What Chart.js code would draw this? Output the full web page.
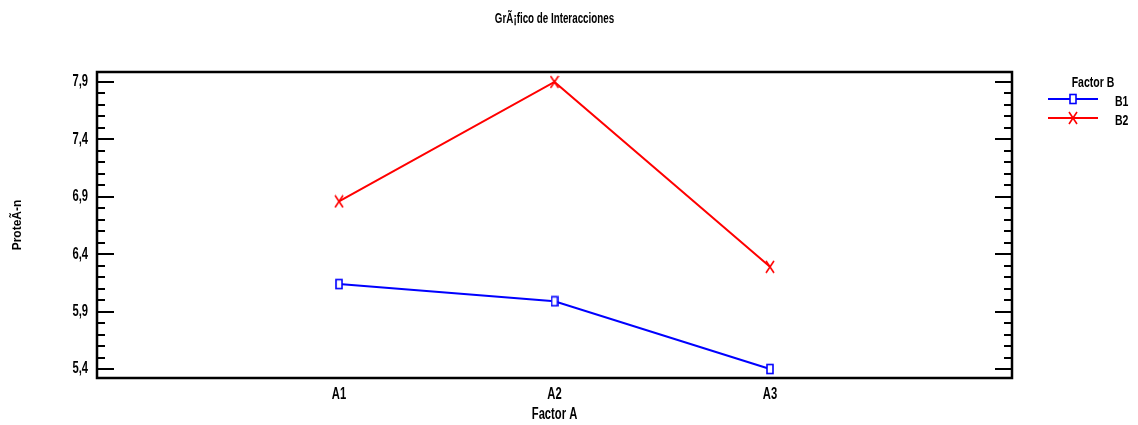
<!DOCTYPE html>
<html>
<head>
<meta charset="utf-8">
<script src="https://cdn.jsdelivr.net/npm/chart.js@4/dist/chart.umd.min.js"></script>
<style>
  body { margin: 0; background: #fff; }
  #wrap { width: 1138px; height: 425px; }
</style>
</head>
<body>
<div id="wrap"><canvas id="chart" width="1138" height="425"></canvas></div>
<script>
// datos
const categories = ['A1', 'A2', 'A3'];
const seriesNames = ['B1', 'B2'];
const b1Values = [6.14, 5.99, 5.40];
const b2Values = [6.86, 7.90, 6.29];
const yTicks = [5.4, 5.9, 6.4, 6.9, 7.4, 7.9];
const chartTitle = 'GrÃ¡fico de Interacciones';
const xTitle = 'Factor A';
const yTitle = 'ProteÃ-n';
const legendTitle = 'Factor B';

// no hay Arial Narrow: se estrecha el texto al dibujarlo
const narrow = '"Liberation Sans Narrow", "Liberation Sans", sans-serif';
const canvas = document.getElementById('chart');
const ctx2d = canvas.getContext('2d');
const baseFill = ctx2d.fillText;
ctx2d.fillText = function (text, x, y, maxWidth) {
    if (!/Narrow/.test(this.font)) return baseFill.call(this, text, x, y, maxWidth);
    this.save();
    this.translate(x, y);
    this.scale(0.7, 1);
    baseFill.call(this, text, 0, 0);
    this.restore();
};

// marcadores: rectángulo alto (B1) y aspa (B2)
function rectMarker(color) {
    const c = document.createElement('canvas');
    c.width = 8; c.height = 12;
    const g = c.getContext('2d');
    g.fillStyle = '#fff';
    g.fillRect(1, 1.5, 6, 9);
    g.strokeStyle = color;
    g.lineWidth = 1.6;
    g.strokeRect(1, 1.5, 6, 9);
    return c;
}
function crossMarker(color) {
    const c = document.createElement('canvas');
    c.width = 10; c.height = 14;
    const g = c.getContext('2d');
    g.strokeStyle = color;
    g.lineWidth = 1.6;
    g.beginPath();
    g.moveTo(1, 1); g.lineTo(9, 13);
    g.moveTo(9, 1); g.lineTo(1, 13);
    g.stroke();
    return c;
}

const blue = '#0000ff';
const red = '#ff0000';
const markers = [rectMarker(blue), crossMarker(red)];

// marco, marcas internas, título y leyenda
const framePlugin = {
    id: 'frame',
    afterDraw(chart) {
        const { ctx, chartArea: a } = chart;
        const y = chart.scales.y;
        ctx.save();
        ctx.strokeStyle = '#000';
        ctx.lineWidth = 2;
        // marcas menores y mayores cada 0,1
        for (let v = 5.4; v <= 7.9 + 1e-9; v += 0.1) {
            const py = Math.round(y.getPixelForValue(v));
            const major = yTicks.some(t => Math.abs(t - v) < 1e-6);
            const len = major ? 17 : 8;
            ctx.beginPath();
            ctx.moveTo(a.left, py); ctx.lineTo(a.left + len, py);
            ctx.moveTo(a.right, py); ctx.lineTo(a.right - len, py);
            ctx.stroke();
        }
        ctx.lineWidth = 2.5;
        ctx.strokeRect(a.left, a.top, a.right - a.left, a.bottom - a.top);

        // título
        ctx.fillStyle = '#000';
        ctx.textAlign = 'center';
        ctx.textBaseline = 'middle';
        ctx.font = 'bold 14px ' + narrow;
        ctx.fillText(chartTitle, (a.left + a.right) / 2, 19);

        // leyenda
        ctx.font = 'bold 15px ' + narrow;
        ctx.fillText(legendTitle, 1093, 83);
        chart.data.datasets.forEach((ds, i) => {
            const ly = 99 + i * 19;
            ctx.strokeStyle = ds.borderColor;
            ctx.lineWidth = 2;
            ctx.beginPath();
            ctx.moveTo(1048, ly); ctx.lineTo(1098, ly);
            ctx.stroke();
            const m = markers[i];
            ctx.drawImage(m, 1073 - m.width / 2, ly - m.height / 2);
            ctx.fillStyle = '#000';
            ctx.textAlign = 'left';
            ctx.fillText(ds.label, 1115, ly + 3);
        });
        ctx.restore();
    }
};

const toPoints = vals => vals.map((v, i) => ({ x: i + 1, y: v }));

new Chart(canvas, {
    type: 'line',
    data: {
        datasets: [{
            label: seriesNames[0],
            data: toPoints(b1Values),
            borderColor: blue,
            borderWidth: 2,
            pointStyle: markers[0],
            pointRadius: 5
        }, {
            label: seriesNames[1],
            data: toPoints(b2Values),
            borderColor: red,
            borderWidth: 2,
            pointStyle: markers[1],
            pointRadius: 6
        }]
    },
    options: {
        responsive: false,
        devicePixelRatio: 1,
        animation: false,
        layout: { padding: { top: 72, right: 126, bottom: 0, left: 0 } },
        plugins: {
            legend: { display: false },
            title: { display: false },
            tooltip: { enabled: false }
        },
        scales: {
            x: {
                type: 'linear',
                min: -0.123,
                max: 4.123,
                afterBuildTicks: s => { s.ticks = categories.map((c, i) => ({ value: i + 1 })); },
                afterFit: s => { s.height = 47; },
                grid: { display: false, drawTicks: false },
                border: { display: false },
                ticks: {
                    padding: 7,
                    color: '#000',
                    font: { family: narrow, size: 16, weight: 'bold' },
                    callback: v => categories[v - 1]
                },
                title: {
                    display: true,
                    text: xTitle,
                    color: '#000',
                    font: { family: narrow, size: 16, weight: 'bold' },
                    padding: { top: 0, bottom: 1 }
                }
            },
            y: {
                min: 5.322,
                max: 7.987,
                afterBuildTicks: s => { s.ticks = yTicks.map(v => ({ value: v })); },
                afterFit: s => { s.width = 97; },
                grid: { display: false, drawTicks: false },
                border: { display: false },
                ticks: {
                    padding: 9,
                    color: '#000',
                    font: { family: narrow, size: 16, weight: 'bold' },
                    callback: v => v.toFixed(1).replace('.', ',')
                },
                title: {
                    display: true,
                    text: yTitle,
                    color: '#000',
                    font: { family: '"Liberation Sans", Arial, sans-serif', size: 12, weight: 'bold' },
                    padding: { top: 10, bottom: 0 }
                }
            }
        }
    },
    plugins: [framePlugin]
});
</script>
</body>
</html>
